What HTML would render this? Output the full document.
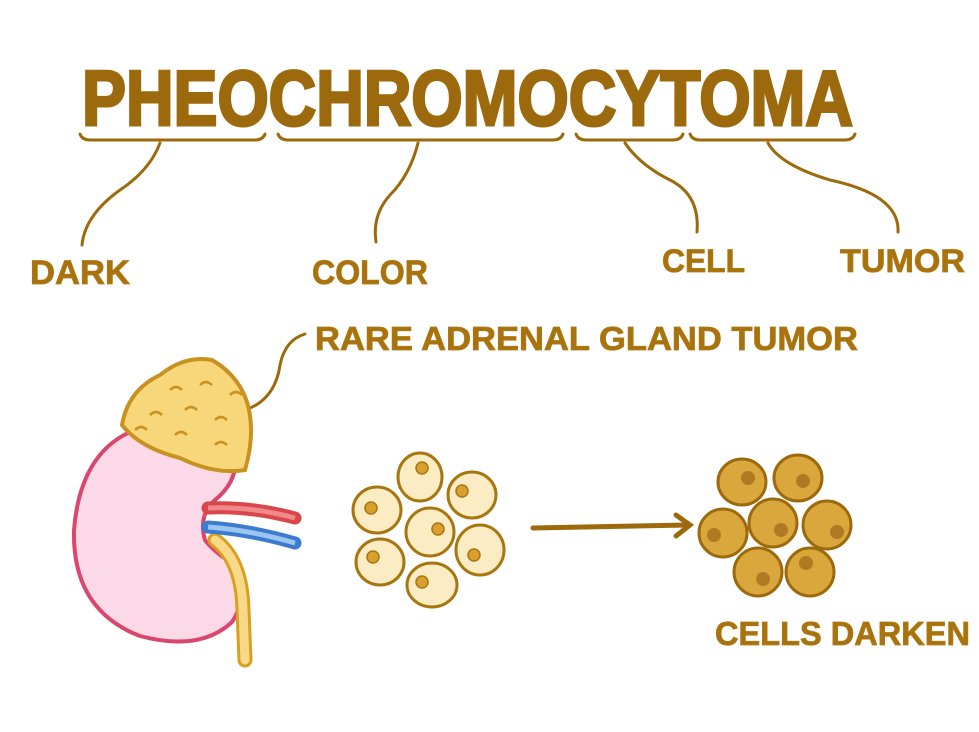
<!DOCTYPE html>
<html><head><meta charset="utf-8"><style>
html,body{margin:0;padding:0;background:#fff;}
svg{display:block}
text{font-family:"Liberation Sans",sans-serif;font-weight:bold;fill:#a8730f}
</style></head><body>
<svg width="979" height="732" viewBox="0 0 979 732" xmlns="http://www.w3.org/2000/svg">
<rect width="979" height="732" fill="#fff"/>
<text x="82" y="125" font-size="78" textLength="771" lengthAdjust="spacingAndGlyphs" style="fill:#9c6a0c;stroke:#9c6a0c;stroke-width:3">PHEOCHROMOCYTOMA</text>
<g fill="none" stroke="#9c6a0c" stroke-width="3" stroke-linecap="round">
<path d="M80 134 Q82 140 90 140 L255 140 Q263 140 265 134"/>
<path d="M278 134 Q280 140 288 140 L553 140 Q561 140 563 134"/>
<path d="M576 134 Q578 140 586 140 L673 140 Q681 140 683 134"/>
<path d="M690 134 Q692 140 700 140 L845 140 Q853 140 855 134"/>
<path d="M160 143 Q150 170 120 190 Q85 215 82 245"/>
<path d="M418 143 Q410 175 390 195 Q372 215 376 242"/>
<path d="M625 143 Q640 165 670 180 Q700 195 697 232"/>
<path d="M768 143 Q780 165 830 180 Q900 195 898 232"/>
<path d="M305 334 Q285 340 280 365 Q275 400 245 410"/>
<path d="M533 528 L688 525" stroke-width="5"/>
<path d="M676 515 L690 525 L676 536" stroke-width="5"/>
</g>
<g style="fill:#b07a12;stroke:#b07a12;stroke-width:0.8">
<text x="30" y="284" font-size="34" textLength="100" lengthAdjust="spacingAndGlyphs">DARK</text>
<text x="312" y="284" font-size="34" textLength="116" lengthAdjust="spacingAndGlyphs">COLOR</text>
<text x="662" y="272" font-size="32" textLength="83" lengthAdjust="spacingAndGlyphs">CELL</text>
<text x="840" y="272" font-size="32" textLength="125" lengthAdjust="spacingAndGlyphs">TUMOR</text>
<text x="315" y="350" font-size="33" textLength="543" lengthAdjust="spacingAndGlyphs">RARE ADRENAL GLAND TUMOR</text>
<text x="715" y="645" font-size="33" textLength="255" lengthAdjust="spacingAndGlyphs">CELLS DARKEN</text>
</g>
<!-- kidney -->
<path d="M130 432 Q80 455 74 530 Q72 610 140 636 Q200 652 232 622 Q250 595 230 562 Q212 550 205 540 Q198 515 215 500 Q240 480 235 450 Q200 415 130 432 Z" fill="#fbd9e6" stroke="#d9476f" stroke-width="4"/>
<path d="M215 540 Q242 560 243 610 L245 660" fill="none" stroke="#d9a020" stroke-width="15" stroke-linecap="round"/>
<path d="M215 540 Q242 560 243 610 L245 660" fill="none" stroke="#f8d98a" stroke-width="9" stroke-linecap="round"/>
<path d="M208 508 Q250 506 295 518" fill="none" stroke="#d9474a" stroke-width="13" stroke-linecap="round"/>
<path d="M208 508 Q250 506 295 518" fill="none" stroke="#f08a8a" stroke-width="5"/>
<path d="M208 527 Q250 530 295 543" fill="none" stroke="#3b7bd0" stroke-width="13" stroke-linecap="round"/>
<path d="M208 527 Q250 530 295 543" fill="none" stroke="#9cc6f0" stroke-width="5"/>
<!-- adrenal -->
<path d="M122 425 Q128 390 160 375 Q185 355 212 360 Q238 375 247 402 Q256 432 245 470 Q215 475 180 458 Q140 448 122 425 Z" fill="#f8d67a" stroke="#c99220" stroke-width="4"/>
<g fill="none" stroke="#c99220" stroke-width="2.5">
<path d="M170 390 q6 -6 12 0"/><path d="M200 385 q6 -6 12 0"/><path d="M150 415 q6 -6 12 0"/><path d="M185 410 q6 -6 12 0"/><path d="M215 420 q6 -6 12 0"/><path d="M175 435 q6 -6 12 0"/><path d="M215 445 q6 -6 12 0"/><path d="M135 430 q6 -6 12 0"/><path d="M230 395 q6 -6 12 0"/>
</g>
<!-- light cells -->
<g fill="#fbecc4" stroke="#a8760f" stroke-width="3">
<ellipse cx="420" cy="477" rx="22" ry="24"/><ellipse cx="472" cy="495" rx="24" ry="23"/><ellipse cx="377" cy="510" rx="24" ry="23"/><ellipse cx="430" cy="532" rx="24" ry="24"/><ellipse cx="480" cy="550" rx="24" ry="25"/><ellipse cx="380" cy="562" rx="24" ry="23"/><ellipse cx="432" cy="585" rx="25" ry="22"/>
</g>
<g fill="#d9a030" stroke="#a8760f" stroke-width="1.5">
<circle cx="422" cy="468" r="6"/><circle cx="462" cy="491" r="6"/><circle cx="371" cy="508" r="6"/><circle cx="438" cy="529" r="6"/><circle cx="474" cy="555" r="6"/><circle cx="373" cy="557" r="6"/><circle cx="422" cy="582" r="6"/>
</g>
<!-- dark cells -->
<g fill="#d9a73c" stroke="#9c6a0c" stroke-width="3">
<ellipse cx="742" cy="482" rx="24" ry="23"/><ellipse cx="798" cy="478" rx="24" ry="23"/><ellipse cx="723" cy="533" rx="24" ry="24"/><ellipse cx="773" cy="523" rx="24" ry="24"/><ellipse cx="827" cy="525" rx="24" ry="24"/><ellipse cx="758" cy="572" rx="24" ry="24"/><ellipse cx="810" cy="572" rx="24" ry="24"/>
</g>
<g fill="#b07a22">
<circle cx="748" cy="478" r="7"/><circle cx="803" cy="481" r="7"/><circle cx="714" cy="535" r="7"/><circle cx="781" cy="530" r="7"/><circle cx="837" cy="532" r="7"/><circle cx="763" cy="579" r="7"/><circle cx="806" cy="563" r="7"/>
</g>
</svg>
</body></html>
